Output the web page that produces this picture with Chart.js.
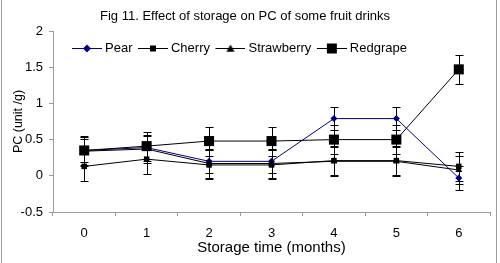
<!DOCTYPE html>
<html>
<head>
<meta charset="utf-8">
<script src="https://cdn.jsdelivr.net/npm/chart.js@4/dist/chart.umd.min.js"></script>
<style>
  body { margin: 0; background: #fff; }
</style>
</head>
<body>
<canvas id="chart" width="500" height="263"></canvas>
<script>
// months on the x axis
const months = ['0', '1', '2', '3', '4', '5', '6'];

// PC values per drink
const pear       = [0.35, 0.39, 0.20, 0.20, 0.79, 0.79, -0.03];
const cherry     = [0.13, 0.23, 0.15, 0.15, 0.21, 0.21, 0.13];
const strawberry = [0.34, 0.37, 0.17, 0.17, 0.20, 0.20, 0.08];
const redgrape   = [0.35, 0.41, 0.48, 0.48, 0.50, 0.50, 1.47];

// error bar half-lengths
const pearErr       = [0.16, 0.16, 0.16, 0.16, 0.16, 0.16, 0.16];
const cherryErr     = [0.2, 0.2, 0.2, 0.2, 0.2, 0.2, 0.2];
const strawberryErr = [0.2, 0.2, 0.2, 0.2, 0.2, 0.2, 0.2];
const redgrapeErr   = [0.2, 0.2, 0.2, 0.2, 0.2, 0.2, 0.2];

const FONT = "'Liberation Sans', Arial, sans-serif";
const AXIS = '#9a9a9a';

// little line + marker pictures for the legend
function legendIcon(color, shape, size) {
    const c = document.createElement('canvas');
    c.width = 34;
    c.height = 13;
    const g = c.getContext('2d');
    g.strokeStyle = color;
    g.fillStyle = color;
    g.lineWidth = 1;
    g.beginPath();
    g.moveTo(4, 6.5);
    g.lineTo(34, 6.5);
    g.stroke();
    const cx = 19, cy = 6.5, h = size / 2;
    g.beginPath();
    if (shape === 'diamond') {
        g.moveTo(cx, cy - h); g.lineTo(cx + h, cy); g.lineTo(cx, cy + h); g.lineTo(cx - h, cy);
    } else if (shape === 'triangle') {
        g.moveTo(cx, cy - h); g.lineTo(cx + h, cy + h * 0.8); g.lineTo(cx - h, cy + h * 0.8);
    } else {
        g.rect(cx - h, cy - h, size, size);
    }
    g.closePath();
    g.fill();
    return c;
}

const icons = [
    legendIcon('#000080', 'diamond', 8),
    legendIcon('#000000', 'square', 6),
    legendIcon('#000000', 'triangle', 8),
    legendIcon('#000000', 'square', 10)
];

// vertical error bars, drawn under the markers
const errorBars = {
    id: 'errorBars',
    beforeDatasetsDraw(chart) {
        const ctx = chart.ctx;
        const y = chart.scales.y;
        ctx.save();
        ctx.strokeStyle = '#000';
        ctx.lineWidth = 1;
        chart.data.datasets.forEach((ds, i) => {
            const meta = chart.getDatasetMeta(i);
            meta.data.forEach((pt, j) => {
                const v = ds.data[j];
                const e = ds.errors[j];
                const x = Math.round(pt.x) + 0.5;
                const top = Math.round(y.getPixelForValue(v + e)) + 0.5;
                const bot = Math.round(y.getPixelForValue(v - e)) + 0.5;
                ctx.beginPath();
                ctx.moveTo(x, top); ctx.lineTo(x, bot);
                ctx.moveTo(x - 4, top); ctx.lineTo(x + 4, top);
                ctx.moveTo(x - 4, bot); ctx.lineTo(x + 4, bot);
                ctx.stroke();
            });
        });
        ctx.restore();
    }
};

// one-row legend inside the top of the plot
const insideLegend = {
    id: 'insideLegend',
    afterDraw(chart) {
        const ctx = chart.ctx;
        const area = chart.chartArea;
        let x = area.left + 19;
        const y = area.top + 17.5;
        ctx.save();
        ctx.font = '13px ' + FONT;
        ctx.fillStyle = '#000';
        ctx.textBaseline = 'middle';
        chart.data.datasets.forEach((ds, i) => {
            ctx.drawImage(icons[i], x - 4, y - 6.5);
            const tx = x + 33;
            ctx.fillText(ds.label, tx, y);
            x = tx + ctx.measureText(ds.label).width + 5.5;
        });
        ctx.restore();
    }
};

// side frame lines
const frame = {
    id: 'frame',
    beforeDraw(chart) {
        const ctx = chart.ctx;
        ctx.save();
        ctx.fillStyle = '#fff';
        ctx.fillRect(0, 0, chart.width, chart.height);
        ctx.strokeStyle = AXIS;
        ctx.lineWidth = 1;
        ctx.beginPath();
        ctx.moveTo(1.5, 0); ctx.lineTo(1.5, chart.height);
        ctx.moveTo(496.5, 0); ctx.lineTo(496.5, chart.height);
        ctx.stroke();
        ctx.restore();
    }
};

new Chart(document.getElementById('chart'), {
    type: 'line',
    data: {
        labels: months,
        datasets: [
            { label: 'Pear', data: pear, errors: pearErr, order: 3,
              borderColor: '#000080', backgroundColor: '#000080',
              pointStyle: 'rectRot', pointRadius: 3.5 },
            { label: 'Cherry', data: cherry, errors: cherryErr, order: 2,
              borderColor: '#000', backgroundColor: '#000',
              pointStyle: 'rect', pointRadius: 3.9 },
            { label: 'Strawberry', data: strawberry, errors: strawberryErr, order: 1,
              borderColor: '#000', backgroundColor: '#000',
              pointStyle: 'triangle', pointRadius: 4 },
            { label: 'Redgrape', data: redgrape, errors: redgrapeErr, order: 0,
              borderColor: '#000', backgroundColor: '#000',
              pointStyle: 'rect', pointRadius: 7.1 }
        ]
    },
    options: {
        responsive: false,
        animation: false,
        datasets: {
            line: { borderWidth: 1, tension: 0, pointBorderWidth: 0, fill: false }
        },
        layout: { padding: { left: 0, right: 10, top: 0, bottom: 0 } },
        plugins: {
            title: {
                display: true,
                text: 'Fig 11. Effect of storage on PC of some fruit drinks',
                color: '#000',
                font: { family: FONT, size: 13, weight: 'normal' },
                padding: { top: 9, bottom: 6.4 }
            },
            legend: { display: false },
            tooltip: { enabled: false }
        },
        scales: {
            x: {
                type: 'category',
                offset: true,
                afterFit(s) { s.height = 51; },
                grid: { offset: true, drawOnChartArea: false, tickLength: 4, color: AXIS },
                border: { color: AXIS },
                ticks: { color: '#000', padding: 10, font: { family: FONT, size: 13 } },
                title: {
                    display: true,
                    text: 'Storage time (months)',
                    color: '#000',
                    font: { family: FONT, size: 15 },
                    padding: { top: 0, bottom: 6 }
                }
            },
            y: {
                min: -0.5,
                max: 2,
                afterFit(s) { s.width = 53; },
                grid: { drawOnChartArea: false, tickLength: 4, color: AXIS },
                border: { color: AXIS },
                ticks: {
                    stepSize: 0.5,
                    color: '#000',
                    padding: 6,
                    font: { family: FONT, size: 13 },
                    callback: v => String(v)
                },
                title: {
                    display: true,
                    text: 'PC (unit /g)',
                    color: '#000',
                    font: { family: FONT, size: 12.5 },
                    padding: { top: 11, bottom: 0 }
                }
            }
        }
    },
    plugins: [frame, errorBars, insideLegend]
});
</script>
</body>
</html>
